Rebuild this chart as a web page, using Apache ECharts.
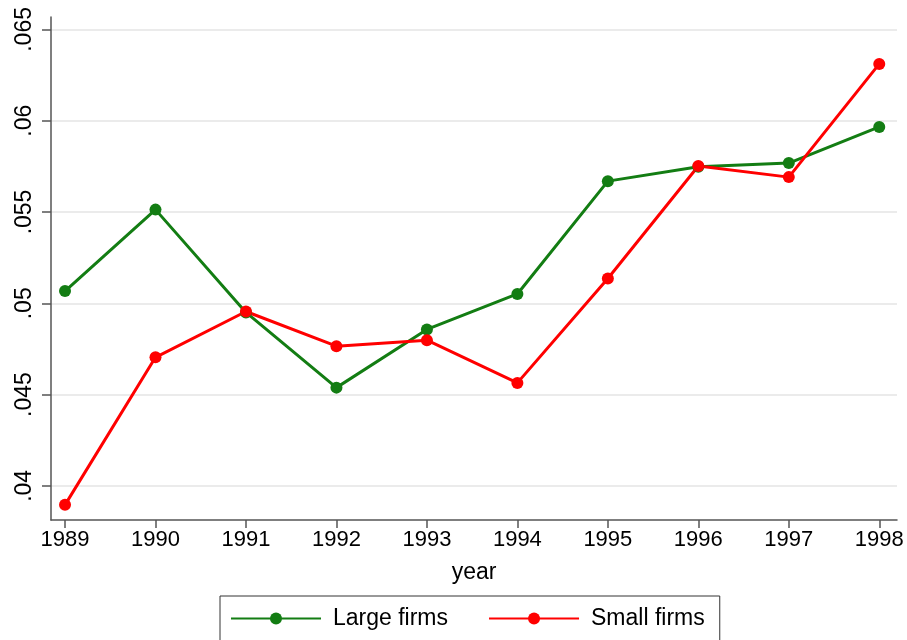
<!DOCTYPE html>
<html>
<head>
<meta charset="utf-8">
<script src="https://cdn.jsdelivr.net/npm/echarts@6/dist/echarts.min.js"></script>
<style>html,body{margin:0;padding:0;background:#fff}#c{width:907px;height:640px}</style>
</head>
<body>
<div id="c"></div>
<script>
var years = [1989, 1990, 1991, 1992, 1993, 1994, 1995, 1996, 1997, 1998];
var largeFirms = [0.05067, 0.05513, 0.04950, 0.04538, 0.04857, 0.05051, 0.05669, 0.05748, 0.05768, 0.05966];
var smallFirms = [0.03896, 0.04704, 0.04955, 0.04765, 0.04798, 0.04564, 0.05136, 0.05752, 0.05691, 0.06311];
var yTicks = [0.04, 0.045, 0.05, 0.055, 0.06, 0.065];
var xTicks = years;

function fmtY(v) {
  var s = (Math.round(v * 1000) / 1000).toString();
  return s.replace(/^0/, '');
}

var font = '"Liberation Sans", Arial, sans-serif';
var chart = echarts.init(document.getElementById('c'), null, {renderer: 'canvas'});
chart.setOption({
  backgroundColor: '#ffffff',
  animation: false,
  textStyle: {fontFamily: font},
  grid: {left: 51, right: 10, top: 17, bottom: 120, containLabel: false},
  xAxis: {
    type: 'value',
    min: 1988.845,
    max: 1998.196,
    name: 'year',
    nameLocation: 'middle',
    nameGap: 41,
    nameTextStyle: {fontSize: 23, color: '#000', fontFamily: font},
    axisLine: {show: true, onZero: false, lineStyle: {color: '#555', width: 1.5}},
    axisTick: {show: true, length: 8, lineStyle: {color: '#555', width: 1.5}, customValues: xTicks},
    axisLabel: {fontSize: 22, color: '#000', margin: 9, fontFamily: font, customValues: xTicks, formatter: function (v) { return String(v); }},
    splitLine: {show: false}
  },
  yAxis: {
    type: 'value',
    min: 0.03813,
    max: 0.06568,
    axisLine: {show: true, onZero: false, lineStyle: {color: '#555', width: 1.5}},
    axisTick: {show: true, length: 9, lineStyle: {color: '#555', width: 1.5}, customValues: yTicks},
    axisLabel: {fontSize: 23, color: '#000', margin: 15, rotate: 90, fontFamily: font, customValues: yTicks, formatter: fmtY},
    splitLine: {show: true, lineStyle: {color: '#ebebeb', width: 2}}
  },
  legend: {
    left: 220,
    top: 596,
    padding: [11, 15, 16, 10],
    itemGap: 40,
    itemWidth: 90,
    itemHeight: 15,
    borderColor: '#333',
    borderWidth: 1,
    backgroundColor: '#fff',
    textStyle: {fontSize: 23, color: '#000', fontFamily: font, padding: [0, 0, 0, 7]},
    data: ['Large firms', 'Small firms']
  },
  series: [
    {
      name: 'Large firms',
      type: 'line',
      data: years.map(function (y, i) { return [y, largeFirms[i]]; }),
      symbol: 'circle',
      symbolSize: 12,
      color: '#137d13',
      lineStyle: {width: 3, color: '#137d13'},
      itemStyle: {color: '#137d13'}
    },
    {
      name: 'Small firms',
      type: 'line',
      data: years.map(function (y, i) { return [y, smallFirms[i]]; }),
      symbol: 'circle',
      symbolSize: 12,
      color: '#ff0000',
      lineStyle: {width: 3, color: '#ff0000'},
      itemStyle: {color: '#ff0000'}
    }
  ]
});
</script>
</body>
</html>
